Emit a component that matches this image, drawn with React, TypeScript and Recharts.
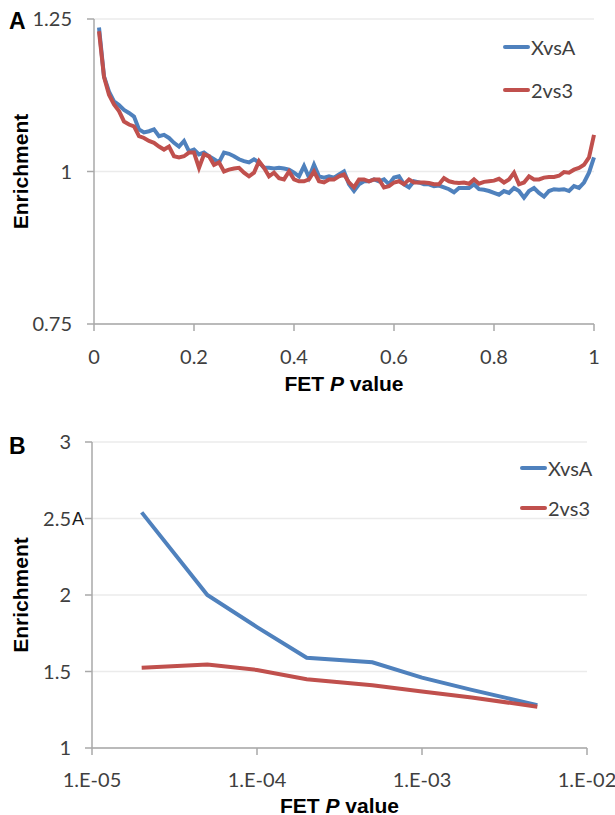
import React from 'react';
import { LineChart, Line, XAxis, YAxis, CartesianGrid, Label } from 'recharts';

// Panel A: enrichment across the whole FET P value range
const pA = [
  0.01, 0.02, 0.03, 0.04, 0.05, 0.06, 0.07, 0.08, 0.09, 0.1,
  0.11, 0.12, 0.13, 0.14, 0.15, 0.16, 0.17, 0.18, 0.19, 0.2,
  0.21, 0.22, 0.23, 0.24, 0.25, 0.26, 0.27, 0.28, 0.29, 0.3,
  0.31, 0.32, 0.33, 0.34, 0.35, 0.36, 0.37, 0.38, 0.39, 0.4,
  0.41, 0.42, 0.43, 0.44, 0.45, 0.46, 0.47, 0.48, 0.49, 0.5,
  0.51, 0.52, 0.53, 0.54, 0.55, 0.56, 0.57, 0.58, 0.59, 0.6,
  0.61, 0.62, 0.63, 0.64, 0.65, 0.66, 0.67, 0.68, 0.69, 0.7,
  0.71, 0.72, 0.73, 0.74, 0.75, 0.76, 0.77, 0.78, 0.79, 0.8,
  0.81, 0.82, 0.83, 0.84, 0.85, 0.86, 0.87, 0.88, 0.89, 0.9,
  0.91, 0.92, 0.93, 0.94, 0.95, 0.96, 0.97, 0.98, 0.99, 1.0,
];
const xvsA_A = [
  1.236, 1.156, 1.131, 1.115, 1.109, 1.101, 1.096, 1.09, 1.069, 1.064,
  1.066, 1.069, 1.058, 1.06, 1.055, 1.047, 1.041, 1.05, 1.033, 1.036,
  1.028, 1.031, 1.025, 1.02, 1.015, 1.031, 1.029, 1.025, 1.02, 1.017,
  1.015, 1.02, 1.015, 1.006, 1.006, 1.005, 1.006, 1.005, 1.003, 0.998,
  0.992, 1.009, 0.99, 1.011, 0.992, 0.99, 0.992, 0.99, 0.995, 1.0,
  0.979, 0.968, 0.979, 0.984, 0.984, 0.987, 0.984, 0.987, 0.979, 0.99,
  0.992, 0.979, 0.974, 0.984, 0.982, 0.979, 0.979, 0.976, 0.977, 0.974,
  0.971, 0.966, 0.973, 0.973, 0.973, 0.979, 0.971, 0.97, 0.968, 0.965,
  0.962, 0.968, 0.965, 0.973, 0.968, 0.957, 0.968, 0.973, 0.965, 0.959,
  0.968, 0.971, 0.97, 0.971, 0.968, 0.976, 0.973, 0.982, 0.998, 1.023,
];
const v2vs3_A = [
  1.23, 1.155, 1.126, 1.11, 1.099, 1.082, 1.077, 1.074, 1.058, 1.055,
  1.05, 1.047, 1.041, 1.036, 1.041, 1.025, 1.023, 1.025, 1.031, 1.031,
  1.006, 1.028, 1.025, 1.011, 1.015, 1.0, 1.003, 1.005, 1.006, 0.998,
  0.992, 0.998, 1.017, 1.006, 0.992, 0.998, 0.989, 0.987, 1.0, 0.987,
  0.984, 0.984, 0.987, 1.0, 0.984, 0.982, 0.987, 0.987, 0.992, 0.995,
  0.982, 0.974, 0.987, 0.987, 0.984, 0.987, 0.987, 0.974, 0.976, 0.982,
  0.984, 0.979, 0.987, 0.982, 0.982, 0.982, 0.981, 0.979, 0.979, 0.989,
  0.984, 0.982, 0.981, 0.982, 0.98, 0.987, 0.98, 0.983, 0.984, 0.985,
  0.988, 0.982, 0.987, 0.998, 0.979, 0.982, 0.992, 0.987, 0.987, 0.99,
  0.991, 0.991, 0.993, 0.999, 0.998, 1.003, 1.006, 1.011, 1.023, 1.06,
];
const xTicksA = [0, 0.2, 0.4, 0.6, 0.8, 1];
const yTicksA = [0.75, 1, 1.25];

// Panel B: enrichment at small P value cutoffs (log axis)
const pB = [2e-5, 5e-5, 1e-4, 2e-4, 5e-4, 1e-3, 2e-3, 5e-3];
const xvsA_B = [2.54, 2.0, 1.79, 1.59, 1.56, 1.46, 1.38, 1.28];
const v2vs3_B = [1.525, 1.545, 1.51, 1.45, 1.41, 1.37, 1.33, 1.27];
const xTicksB = [1e-5, 1e-4, 1e-3, 1e-2];
const yTicksB = [1, 1.5, 2, 2.5, 3];

const seriesNames = ['XvsA', '2vs3'];

const dataA = pA.map((p, i) => ({ p, xvsA: xvsA_A[i], v2vs3: v2vs3_A[i] }));
const dataB = pB.map((p, i) => ({ p, xvsA: xvsA_B[i], v2vs3: v2vs3_B[i] }));

const BLUE = '#4F81BD';
const RED = '#C0504D';
const AXIS = '#a9a9a9';
const GRID = '#ebebeb';
const TICK_FONT = 'Lato, "Open Sans", sans-serif';
const TITLE_FONT = '"Liberation Sans", Arial, sans-serif';

const tickStyle = { fill: '#3f3f3f', fontSize: 20, fontFamily: TICK_FONT };

const logLabel = (v: number) => {
  const e = Math.round(Math.log10(v));
  const s = String(Math.abs(e)).padStart(2, '0');
  return `1.E${e < 0 ? '-' : '+'}${s}`;
};

const XTitle = (props: any) => {
  const { viewBox, offsetY } = props;
  return (
    <text
      x={viewBox.x + viewBox.width / 2}
      y={viewBox.y + offsetY}
      textAnchor="middle"
      dominantBaseline="central"
      fontFamily={TITLE_FONT}
      fontWeight="bold"
      fontSize={21}
      fill="#000"
    >
      <tspan>FET </tspan>
      <tspan fontStyle="italic">P</tspan>
      <tspan> value</tspan>
    </text>
  );
};

const YTitle = (props: any) => {
  const { viewBox } = props;
  const cx = 20;
  const cy = viewBox.y + viewBox.height / 2;
  return (
    <text
      x={cx}
      y={cy}
      transform={`rotate(-90 ${cx} ${cy})`}
      textAnchor="middle"
      dominantBaseline="central"
      fontFamily={TITLE_FONT}
      fontWeight="bold"
      fontSize={21}
      fill="#000"
    >
      Enrichment
    </text>
  );
};

// the 2.5 tick in panel B carries a stray "A" in the original figure
const TickB = (props: any) => {
  const { x, y, payload } = props;
  return (
    <g>
      <text x={x} y={y} dy="0.355em" textAnchor="end" {...tickStyle}>
        {payload.value}
      </text>
      {payload.value === 2.5 && (
        <text x={x + 1} y={y} dy="0.355em" textAnchor="start" fontFamily={TITLE_FONT} fontSize={18} fill="#1a1a1a">
          A
        </text>
      )}
    </g>
  );
};

// legend drawn as plain html so it takes no room from the plot
const LegendBox = ({ left, top, rowHeight }: { left: number; top: number; rowHeight: number }) => (
  <div style={{ position: 'absolute', left, top }}>
    {seriesNames.map((name, i) => (
      <div key={name} style={{ display: 'flex', alignItems: 'center', height: rowHeight }}>
        <div style={{ width: 27, height: 4, background: i === 0 ? BLUE : RED, borderRadius: 2 }} />
        <span style={{ fontFamily: TICK_FONT, fontSize: 20, color: '#3f3f3f', marginLeft: 1 }}>{name}</span>
      </div>
    ))}
  </div>
);

const PanelLetter = ({ letter, top }: { letter: string; top: number }) => (
  <div
    style={{
      position: 'absolute',
      left: 9,
      top,
      fontFamily: TITLE_FONT,
      fontWeight: 'bold',
      fontSize: 23,
      lineHeight: '23px',
      color: '#000',
    }}
  >
    {letter}
  </div>
);

export default function App() {
  return (
    <div style={{ position: 'absolute', left: 0, top: 0, width: 615, height: 815, background: '#fff' }}>
      <div style={{ position: 'absolute', left: 0, top: 0 }}>
        <LineChart width={615} height={400} data={dataA} margin={{ top: 19, right: 21, left: 0, bottom: 0 }}>
          <CartesianGrid horizontal vertical={false} stroke={GRID} strokeWidth={1.5} />
          <XAxis
            dataKey="p"
            type="number"
            domain={[0, 1]}
            ticks={xTicksA}
            height={76}
            stroke={AXIS}
            strokeWidth={1.5}
            tickSize={7}
            tickMargin={19}
            tick={tickStyle}
            label={<Label content={(p: any) => <XTitle {...p} offsetY={59} />} />}
          />
          <YAxis
            type="number"
            domain={[0.75, 1.25]}
            ticks={yTicksA}
            width={94}
            stroke={AXIS}
            strokeWidth={1.5}
            tickSize={7}
            tickMargin={15}
            tick={tickStyle}
            label={<Label content={(p: any) => <YTitle {...p} />} />}
          />
          <Line type="linear" dataKey="xvsA" name="XvsA" stroke={BLUE} strokeWidth={4} dot={false} isAnimationActive={false} />
          <Line type="linear" dataKey="v2vs3" name="2vs3" stroke={RED} strokeWidth={4} dot={false} isAnimationActive={false} />
        </LineChart>
      </div>
      <LegendBox left={503} top={25} rowHeight={43} />
      <PanelLetter letter="A" top={10} />

      <div style={{ position: 'absolute', left: 0, top: 400 }}>
        <LineChart width={615} height={415} data={dataB} margin={{ top: 42, right: 28, left: 0, bottom: 0 }}>
          <CartesianGrid horizontal vertical={false} stroke={GRID} strokeWidth={1.5} />
          <XAxis
            dataKey="p"
            type="number"
            scale="log"
            domain={[1e-5, 1e-2]}
            ticks={xTicksB}
            tickFormatter={logLabel}
            height={67}
            stroke={AXIS}
            strokeWidth={1.5}
            tickSize={7}
            tickMargin={18}
            tick={tickStyle}
            label={<Label content={(p: any) => <XTitle {...p} offsetY={57} />} />}
          />
          <YAxis
            type="number"
            domain={[1, 3]}
            ticks={yTicksB}
            width={92}
            stroke={AXIS}
            strokeWidth={1.5}
            tickSize={7}
            tickMargin={14}
            tick={<TickB />}
            label={<Label content={(p: any) => <YTitle {...p} />} />}
          />
          <Line type="linear" dataKey="xvsA" name="XvsA" stroke={BLUE} strokeWidth={4} dot={false} isAnimationActive={false} />
          <Line type="linear" dataKey="v2vs3" name="2vs3" stroke={RED} strokeWidth={4} dot={false} isAnimationActive={false} />
        </LineChart>
      </div>
      <LegendBox left={520} top={448} rowHeight={40} />
      <PanelLetter letter="B" top={435} />
    </div>
  );
}
